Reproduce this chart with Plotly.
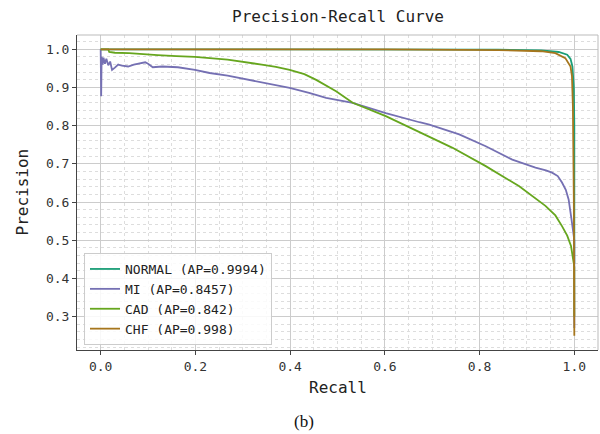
import plotly.graph_objects as go

# Precision-recall operating points per class (recall, precision)
normal_recall = [0.0, 0.30, 0.60, 0.84, 0.93, 0.967, 0.985, 0.992, 0.996, 0.999, 1.0, 1.0]
normal_precision = [1.0, 1.0, 1.0, 0.999, 0.997, 0.993, 0.986, 0.975, 0.955, 0.90, 0.80, 0.44]

mi_recall = [0.0, 0.001, 0.002, 0.004, 0.006, 0.009, 0.012, 0.016, 0.020, 0.024, 0.030,
             0.037, 0.045, 0.058, 0.070, 0.085, 0.094, 0.100, 0.110, 0.130, 0.163, 0.199,
             0.230, 0.268, 0.300, 0.340, 0.399, 0.440, 0.476, 0.532, 0.602, 0.673, 0.694,
             0.757, 0.813, 0.869, 0.900, 0.918, 0.940, 0.953, 0.965, 0.974, 0.982, 0.988,
             0.994, 0.997, 1.0, 1.0]
mi_precision = [1.0, 0.877, 0.980, 0.960, 0.978, 0.962, 0.975, 0.958, 0.968, 0.946, 0.952,
                0.960, 0.957, 0.955, 0.960, 0.965, 0.966, 0.962, 0.953, 0.955, 0.953, 0.946,
                0.938, 0.931, 0.923, 0.913, 0.899, 0.886, 0.873, 0.860, 0.833, 0.809, 0.803,
                0.777, 0.746, 0.711, 0.697, 0.690, 0.683, 0.677, 0.668, 0.651, 0.632, 0.607,
                0.555, 0.520, 0.50, 0.27]

cad_recall = [0.0, 0.016, 0.018, 0.030, 0.060, 0.094, 0.120, 0.160, 0.199, 0.268, 0.300,
              0.340, 0.370, 0.399, 0.430, 0.455, 0.497, 0.532, 0.602, 0.673, 0.694, 0.743,
              0.813, 0.883, 0.939, 0.960, 0.974, 0.985, 0.993, 0.997, 1.0, 1.0]
cad_precision = [1.0, 1.0, 0.993, 0.991, 0.990, 0.988, 0.985, 0.982, 0.980, 0.973, 0.968,
                 0.960, 0.954, 0.946, 0.935, 0.920, 0.890, 0.860, 0.825, 0.783, 0.772, 0.742,
                 0.694, 0.642, 0.590, 0.565, 0.537, 0.512, 0.485, 0.450, 0.43, 0.30]

chf_recall = [0.0, 0.30, 0.60, 0.84, 0.93, 0.960, 0.981, 0.992, 0.995, 0.997, 0.999, 1.0]
chf_precision = [1.0, 1.0, 1.0, 0.998, 0.995, 0.990, 0.977, 0.955, 0.930, 0.85, 0.60, 0.25]

labels = ["NORMAL (AP=0.9994)", "MI (AP=0.8457)", "CAD (AP=0.842)", "CHF (AP=0.998)"]
colors = ["#1b9e77", "#7570b3", "#66a61e", "#a6761d"]

x_ticks = [0.0, 0.2, 0.4, 0.6, 0.8, 1.0]
y_ticks = [0.3, 0.4, 0.5, 0.6, 0.7, 0.8, 0.9, 1.0]

MONO = "DejaVu Sans Mono"

series = [
    (normal_recall, normal_precision),
    (mi_recall, mi_precision),
    (cad_recall, cad_precision),
    (chf_recall, chf_precision),
]

fig = go.Figure()
for (rec, prec), name, col in zip(series, labels, colors):
    fig.add_trace(go.Scatter(
        x=rec, y=prec, mode="lines", name=name,
        line=dict(color=col, width=1.8),
    ))

axis_common = dict(
    showline=True, linecolor="#444", linewidth=1,
    ticks="outside", ticklen=4, tickwidth=1, tickcolor="#444",
    tickfont=dict(family=MONO, size=13, color="#333"),
    showgrid=True, gridcolor="#cccccc", gridwidth=1,
    zeroline=False, mirror=False,
)

fig.update_xaxes(
    range=[-0.05, 1.05], tickvals=x_ticks, tickformat=".1f",
    minor=dict(dtick=0.05, tick0=0, showgrid=True, gridcolor="#dddddd",
               griddash="dot", gridwidth=1),
    **axis_common,
)
fig.update_yaxes(
    range=[0.2125, 1.0375], tickvals=y_ticks, tickformat=".1f",
    minor=dict(dtick=0.02, tick0=0, showgrid=True, gridcolor="#dddddd",
               griddash="dot", gridwidth=1),
    **axis_common,
)

# light frame on the top and right edges of the plotting area
fig.add_shape(type="line", xref="paper", yref="paper", x0=0, x1=1, y0=1, y1=1,
              line=dict(color="#bbbbbb", width=1))
fig.add_shape(type="line", xref="paper", yref="paper", x0=1, x1=1, y0=0, y1=1,
              line=dict(color="#bbbbbb", width=1))

W, H = 600, 434
ML, MR, MT, MB = 77, 2, 35, 84
pw, ph = W - ML - MR, H - MT - MB

fig.add_annotation(text="Precision-Recall Curve", xref="paper", yref="paper",
                   x=0.5, y=1 + (MT - 17) / ph, showarrow=False,
                   xanchor="center", yanchor="middle",
                   font=dict(family=MONO, size=16, color="#222"))
fig.add_annotation(text="Recall", xref="paper", yref="paper",
                   x=0.5, y=-(387 - MT - ph) / ph, showarrow=False,
                   xanchor="center", yanchor="middle",
                   font=dict(family=MONO, size=16, color="#222"))
fig.add_annotation(text="Precision", xref="paper", yref="paper",
                   x=(22 - ML) / pw, y=0.5, showarrow=False, textangle=-90,
                   xanchor="center", yanchor="middle",
                   font=dict(family=MONO, size=16, color="#222"))
fig.add_annotation(text="(b)", xref="paper", yref="paper",
                   x=(304 - ML) / pw, y=-(421 - MT - ph) / ph, showarrow=False,
                   xanchor="center", yanchor="middle",
                   font=dict(family="Liberation Serif", size=17, color="#111"))

fig.update_layout(
    width=W, height=H,
    margin=dict(l=ML, r=MR, t=MT, b=MB, pad=0),
    paper_bgcolor="white", plot_bgcolor="white",
    showlegend=True,
    legend=dict(
        x=(84 - ML) / pw, y=(MT + ph - 345) / ph, xanchor="left", yanchor="bottom",
        bgcolor="rgba(255,255,255,0.85)", bordercolor="#cccccc", borderwidth=1,
        font=dict(family=MONO, size=13, color="#222"),
        tracegroupgap=0, itemwidth=30,
    ),
)

fig.write_html("out.html")
